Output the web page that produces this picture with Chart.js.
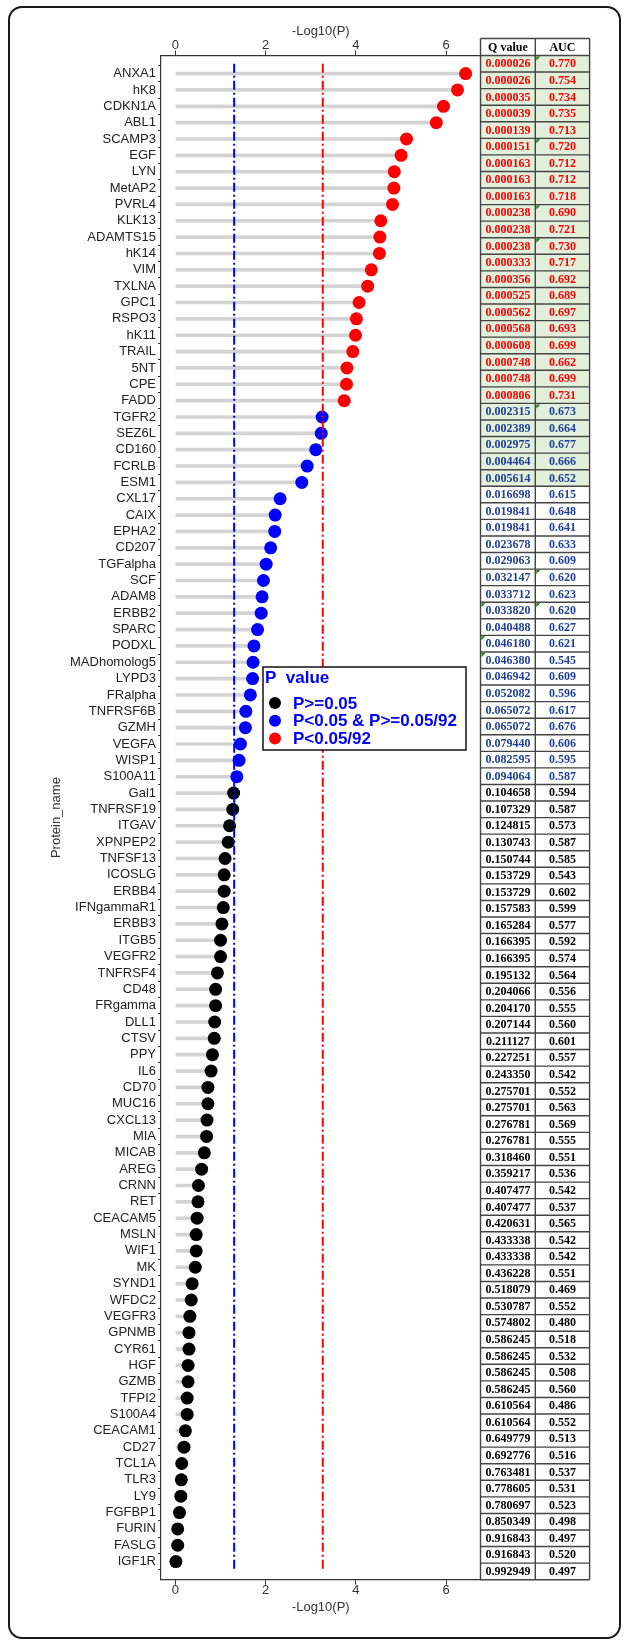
<!DOCTYPE html>
<html>
<head>
<meta charset="utf-8">
<script src="https://cdn.jsdelivr.net/npm/chart.js@4.4.1/dist/chart.umd.min.js"></script>
<style>
  html, body { margin: 0; padding: 0; background: #fff; }
  #wrap { position: relative; width: 625px; height: 1640px; }
  #frame { position: absolute; left: 8px; top: 6px; width: 609px; height: 1629px;
           border: 2px solid #1a1a1a; border-radius: 14px; pointer-events: none; }
  canvas { position: absolute; left: 0; top: 0; }
</style>
</head>
<body>
<div id="wrap">
  <canvas id="chart" width="625" height="1640"></canvas>
  <div id="frame"></div>
</div>
<script>
// Proteins, ordered by significance (top row first)
const proteins = [
  'ANXA1','hK8','CDKN1A','ABL1','SCAMP3','EGF','LYN','MetAP2','PVRL4','KLK13',
  'ADAMTS15','hK14','VIM','TXLNA','GPC1','RSPO3','hK11','TRAIL','5NT','CPE',
  'FADD','TGFR2','SEZ6L','CD160','FCRLB','ESM1','CXL17','CAIX','EPHA2','CD207',
  'TGFalpha','SCF','ADAM8','ERBB2','SPARC','PODXL','MADhomolog5','LYPD3','FRalpha','TNFRSF6B',
  'GZMH','VEGFA','WISP1','S100A11','Gal1','TNFRSF19','ITGAV','XPNPEP2','TNFSF13','ICOSLG',
  'ERBB4','IFNgammaR1','ERBB3','ITGB5','VEGFR2','TNFRSF4','CD48','FRgamma','DLL1','CTSV',
  'PPY','IL6','CD70','MUC16','CXCL13','MIA','MICAB','AREG','CRNN','RET',
  'CEACAM5','MSLN','WIF1','MK','SYND1','WFDC2','VEGFR3','GPNMB','CYR61','HGF',
  'GZMB','TFPI2','S100A4','CEACAM1','CD27','TCL1A','TLR3','LY9','FGFBP1','FURIN',
  'FASLG','IGF1R'
];

// -Log10(P) for each protein
const negLog10P = [
  6.43, 6.25, 5.94, 5.78, 5.12, 5.00, 4.85, 4.84, 4.81, 4.55,
  4.53, 4.52, 4.34, 4.26, 4.07, 4.01, 3.99, 3.93, 3.80, 3.79,
  3.74, 3.25, 3.23, 3.11, 2.92, 2.80, 2.32, 2.21, 2.20, 2.11,
  2.01, 1.95, 1.92, 1.90, 1.82, 1.74, 1.72, 1.71, 1.66, 1.56,
  1.55, 1.44, 1.41, 1.36, 1.29, 1.27, 1.20, 1.17, 1.10, 1.08,
  1.08, 1.06, 1.03, 1.00, 1.00, 0.93, 0.89, 0.89, 0.87, 0.86,
  0.82, 0.79, 0.72, 0.72, 0.70, 0.69, 0.64, 0.58, 0.51, 0.50,
  0.48, 0.46, 0.46, 0.44, 0.37, 0.35, 0.32, 0.30, 0.30, 0.28,
  0.28, 0.26, 0.26, 0.22, 0.19, 0.14, 0.13, 0.12, 0.09, 0.05,
  0.05, 0.01
];

// Q values and AUC, as printed in the side table
const qValues = [
  '0.000026','0.000026','0.000035','0.000039','0.000139','0.000151','0.000163','0.000163','0.000163','0.000238',
  '0.000238','0.000238','0.000333','0.000356','0.000525','0.000562','0.000568','0.000608','0.000748','0.000748',
  '0.000806','0.002315','0.002389','0.002975','0.004464','0.005614','0.016698','0.019841','0.019841','0.023678',
  '0.029063','0.032147','0.033712','0.033820','0.040488','0.046180','0.046380','0.046942','0.052082','0.065072',
  '0.065072','0.079440','0.082595','0.094064','0.104658','0.107329','0.124815','0.130743','0.150744','0.153729',
  '0.153729','0.157583','0.165284','0.166395','0.166395','0.195132','0.204066','0.204170','0.207144','0.211127',
  '0.227251','0.243350','0.275701','0.275701','0.276781','0.276781','0.318460','0.359217','0.407477','0.407477',
  '0.420631','0.433338','0.433338','0.436228','0.518079','0.530787','0.574802','0.586245','0.586245','0.586245',
  '0.586245','0.610564','0.610564','0.649779','0.692776','0.763481','0.778605','0.780697','0.850349','0.916843',
  '0.916843','0.992949'
];
const aucValues = [
  '0.770','0.754','0.734','0.735','0.713','0.720','0.712','0.712','0.718','0.690',
  '0.721','0.730','0.717','0.692','0.689','0.697','0.693','0.699','0.662','0.699',
  '0.731','0.673','0.664','0.677','0.666','0.652','0.615','0.648','0.641','0.633',
  '0.609','0.620','0.623','0.620','0.627','0.621','0.545','0.609','0.596','0.617',
  '0.676','0.606','0.595','0.587','0.594','0.587','0.573','0.587','0.585','0.543',
  '0.602','0.599','0.577','0.592','0.574','0.564','0.556','0.555','0.560','0.601',
  '0.557','0.542','0.552','0.563','0.569','0.555','0.551','0.536','0.542','0.537',
  '0.565','0.542','0.542','0.551','0.469','0.552','0.480','0.518','0.532','0.508',
  '0.560','0.486','0.552','0.513','0.516','0.537','0.531','0.523','0.498','0.497',
  '0.520','0.497'
];
const tableHeaders = ['Q value', 'AUC'];

// Spreadsheet cell markers: [row, column]
const cellMarkers = [[0,1],[5,1],[9,1],[11,1],[21,1],[31,1],[33,0],[33,1],[35,0],[36,0]];

const xTicks = [0, 2, 4, 6];
const legendTitle = 'P  value';
const legendLabels = ['P>=0.05', 'P<0.05 & P>=0.05/92', 'P<0.05/92'];

// Significance cut-offs
const nominalCut = -Math.log10(0.05);
const bonferroniCut = -Math.log10(0.05 / 92);

const COLORS = { ns: '#000000', nominal: '#0000ff', bonf: '#ff0000' };
const TABLE_TEXT = { ns: '#000000', nominal: '#1f3f99', bonf: '#ff0000' };
const groupOf = v => v > bonferroniCut ? 'bonf' : (v > nominalCut ? 'nominal' : 'ns');

const SANS = "'Liberation Sans', Arial, sans-serif";
const SERIF = "'Liberation Serif', 'Times New Roman', serif";
const AXIS_COLOR = '#333333';

const yMin = -0.6, yMax = proteins.length - 1 + 0.6;

const stemData = negLog10P.map((v, i) => ({ y: i, x: [0, v] }));
const pointData = negLog10P.map((v, i) => ({ y: i, x: v }));
const pointColors = negLog10P.map(v => COLORS[groupOf(v)]);

const tablePlugin = {
  id: 'sideTable',
  afterDraw(chart) {
    const ctx = chart.ctx;
    const area = chart.chartArea;
    const n = proteins.length;
    const rowH = (area.bottom - area.top) / n;
    const x0 = area.right, x1 = x0 + 54.8, x2 = x1 + 54.3;
    const headTop = area.top - 17;
    ctx.save();
    // header
    ctx.fillStyle = '#ffffff';
    ctx.fillRect(x0, headTop, x2 - x0, area.top - headTop);
    // row backgrounds
    for (let i = 0; i < n; i++) {
      const top = area.top + i * rowH;
      ctx.fillStyle = parseFloat(qValues[i]) < 0.01 ? '#e2efda' : '#ffffff';
      ctx.fillRect(x0, top, x2 - x0, rowH);
    }
    // markers
    ctx.fillStyle = '#1e7b1e';
    cellMarkers.forEach(([r, c]) => {
      const cx = c === 0 ? x0 : x1;
      const top = area.top + r * rowH;
      ctx.beginPath();
      ctx.moveTo(cx + 1, top + 1);
      ctx.lineTo(cx + 5, top + 1);
      ctx.lineTo(cx + 1, top + 5);
      ctx.closePath();
      ctx.fill();
    });
    // grid lines
    ctx.strokeStyle = '#444444';
    ctx.lineWidth = 1.4;
    ctx.beginPath();
    [x0, x1, x2].forEach(x => { ctx.moveTo(x, headTop); ctx.lineTo(x, area.bottom); });
    ctx.moveTo(x0, headTop); ctx.lineTo(x2, headTop);
    for (let i = 0; i <= n; i++) {
      const y = area.top + i * rowH;
      ctx.moveTo(x0, y); ctx.lineTo(x2, y);
    }
    ctx.stroke();
    // text
    ctx.textAlign = 'center';
    ctx.textBaseline = 'middle';
    ctx.font = 'bold 12px ' + SERIF;
    ctx.fillStyle = '#000000';
    ctx.fillText(tableHeaders[0], (x0 + x1) / 2, (headTop + area.top) / 2 + 1);
    ctx.fillText(tableHeaders[1], (x1 + x2) / 2, (headTop + area.top) / 2 + 1);
    for (let i = 0; i < n; i++) {
      const cy = area.top + (i + 0.5) * rowH + 0.5;
      ctx.fillStyle = TABLE_TEXT[groupOf(negLog10P[i])];
      ctx.fillText(qValues[i], (x0 + x1) / 2, cy);
      ctx.fillText(aucValues[i], (x1 + x2) / 2, cy);
    }
    ctx.restore();
  }
};

const legendPlugin = {
  id: 'boxLegend',
  afterDraw(chart) {
    const ctx = chart.ctx;
    const area = chart.chartArea;
    const xs = chart.scales.x;
    const left = xs.getPixelForValue(1.94), right = left + 203;
    const top = 667, bottom = 750;
    ctx.save();
    ctx.fillStyle = '#ffffff';
    ctx.fillRect(left, top, right - left, bottom - top);
    ctx.strokeStyle = '#111111';
    ctx.lineWidth = 1.5;
    ctx.strokeRect(left, top, right - left, bottom - top);
    ctx.fillStyle = '#0000ff';
    ctx.textBaseline = 'middle';
    ctx.textAlign = 'left';
    ctx.font = 'bold 17px ' + SANS;
    ctx.fillText(legendTitle, left + 2, top + 11);
    const keys = ['ns', 'nominal', 'bonf'];
    legendLabels.forEach((t, k) => {
      const cy = top + 36 + k * 17.8;
      ctx.fillStyle = COLORS[keys[k]];
      ctx.beginPath();
      ctx.arc(left + 12, cy, 6, 0, Math.PI * 2);
      ctx.fill();
      ctx.fillStyle = '#0000ff';
      ctx.font = 'bold 17px ' + SANS;
      ctx.fillText(t, left + 30, cy + 1);
    });
    ctx.restore();
  }
};

const tickFont = { family: SANS, size: 13, lineHeight: 1 };
const titleFont = { family: SANS, size: 13 };

function xAxis(position, titlePadding) {
  return {
    type: 'linear',
    position,
    axis: 'x',
    min: -0.32,
    max: 6.76,
    afterBuildTicks: s => { s.ticks = xTicks.map(v => ({ value: v })); },
    grid: { drawOnChartArea: false, drawTicks: true, tickLength: 5, tickColor: AXIS_COLOR },
    border: { display: true, color: AXIS_COLOR, width: 1.2 },
    ticks: { font: tickFont, color: AXIS_COLOR, padding: -1, maxRotation: 0 },
    title: { display: true, text: '-Log10(P)', font: titleFont, color: AXIS_COLOR, padding: titlePadding }
  };
}

new Chart(document.getElementById('chart'), {
  type: 'bar',
  data: {
    datasets: [
      {
        type: 'line',
        label: 'P = 0.05',
        data: [{ x: nominalCut, y: yMin }, { x: nominalCut, y: yMax }],
        borderColor: '#0000ff',
        borderWidth: 2,
        borderDash: [9, 3, 2, 3],
        pointRadius: 0,
        order: 0
      },
      {
        type: 'line',
        label: 'P = 0.05/92',
        data: [{ x: bonferroniCut, y: yMin }, { x: bonferroniCut, y: yMax }],
        borderColor: '#ff0000',
        borderWidth: 2,
        borderDash: [9, 3, 2, 3],
        pointRadius: 0,
        order: 0
      },
      {
        type: 'scatter',
        label: 'points',
        data: pointData,
        backgroundColor: pointColors,
        borderWidth: 0,
        pointRadius: 6.5,
        order: 1
      },
      {
        type: 'bar',
        label: 'stems',
        data: stemData,
        backgroundColor: '#d3d3d3',
        borderWidth: 0,
        barThickness: 3,
        order: 2
      }
    ]
  },
  options: {
    indexAxis: 'y',
    responsive: false,
    animation: false,
    events: [],
    layout: { padding: { left: 45, right: 144.5, top: 23.9, bottom: 25.2 } },
    plugins: { legend: { display: false }, tooltip: { enabled: false } },
    scales: {
      x: xAxis('bottom', { top: 3.5, bottom: 0 }),
      x2: xAxis('top', { top: 0, bottom: 0 }),
      y: {
        type: 'linear',
        reverse: true,
        min: yMin,
        max: yMax,
        afterBuildTicks: s => { s.ticks = proteins.map((_, i) => ({ value: i })); },
        afterFit: s => { s.width = 116; },
        grid: { drawOnChartArea: false, drawTicks: true, tickLength: 3, tickColor: AXIS_COLOR },
        border: { display: true, color: AXIS_COLOR, width: 1.2 },
        ticks: {
          autoSkip: false,
          font: { family: SANS, size: 13 },
          color: '#222222',
          padding: 2,
          callback: v => proteins[v]
        },
        title: { display: true, text: 'Protein_name', font: titleFont, color: AXIS_COLOR }
      }
    }
  },
  plugins: [tablePlugin, legendPlugin]
});
</script>
</body>
</html>
